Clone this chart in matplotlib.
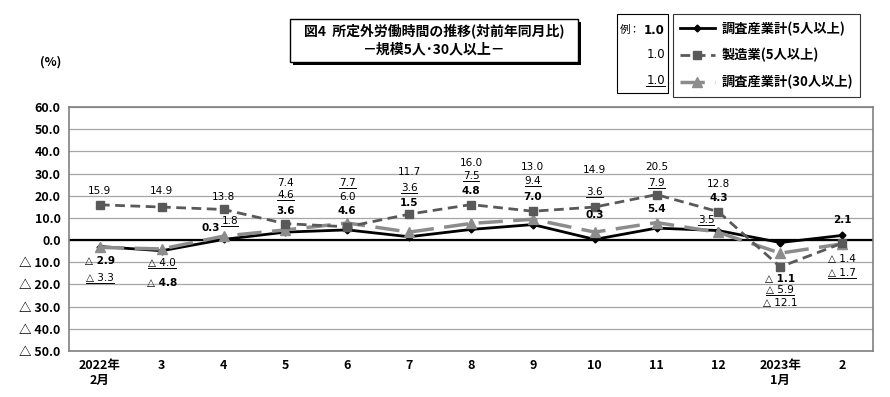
import matplotlib
matplotlib.use("Agg")
import matplotlib.pyplot as plt
from matplotlib.lines import Line2D
from matplotlib.patches import Rectangle

plt.rcParams['font.family'] = ['Noto Sans CJK JP', 'DejaVu Sans']

months = ['2022年\n2月', '3', '4', '5', '6', '7', '8', '9', '10', '11', '12', '2023年\n1月', '2']
total_5 = [-2.9, -4.8, 0.3, 3.6, 4.6, 1.5, 4.8, 7.0, 0.3, 5.4, 4.3, -1.1, 2.1]
manuf_5 = [15.9, 14.9, 13.8, 7.4, 6.0, 11.7, 16.0, 13.0, 14.9, 20.5, 12.8, -12.1, -1.4]
total_30 = [-3.3, -4.0, 1.8, 4.6, 7.7, 3.6, 7.5, 9.4, 3.6, 7.9, 3.5, -5.9, -1.7]

# where the value labels sit (data y), and small x shifts
pos_total = [-9.5, -19.4, 5.4, 13.1, 13.1, 16.7, 22.1, 19.4, 11.3, 14.0, 18.9, -17.6, 9.0]
pos_manuf = [22.1, 22.1, 19.4, 25.7, 19.4, 30.6, 34.7, 32.9, 31.5, 32.9, 25.2, -28.4, -8.6]
pos_30 = [-17.1, -10.4, 8.6, 20.3, 25.7, 23.4, 28.8, 26.6, 21.6, 25.7, 9.0, -22.5, -14.9]
dx_total = [0, 0, -0.2, 0, 0, 0, 0, 0, 0, 0, 0, 0, 0]
dx_30 = [0, 0, 0.1, 0, 0, 0, 0, 0, 0, 0, -0.2, 0, 0]


def fmt(v):
    if v < 0:
        return "△ %.1f" % abs(v)
    return "%.1f" % v


fig = plt.figure(figsize=(8.9, 3.97), dpi=100)
ax = fig.add_axes([69 / 890, 1 - 351 / 397, 804 / 890, 244 / 397])

x = list(range(len(months)))
ax.set_xlim(-0.5, len(months) - 0.5)
ax.set_ylim(-50, 60)

yt = list(range(-50, 61, 10))
ax.set_yticks(yt)
ax.set_yticklabels([fmt(v) for v in yt], fontsize=9, fontweight='bold')
ax.set_xticks(x)
ax.set_xticklabels(months, fontsize=9, fontweight='bold', linespacing=1.2)
ax.tick_params(length=0, pad=6)
ax.yaxis.grid(True, color='#a6a6a6', lw=0.9)
ax.set_axisbelow(True)
ax.axhline(0, color='black', lw=1.6, zorder=2)
for s in ax.spines.values():
    s.set_color('#808080')
    s.set_linewidth(1.2)

l1, = ax.plot(x, total_5, color='black', lw=2, marker='D', ms=3.5, zorder=3,
              label='調査産業計(5人以上)')
l3, = ax.plot(x, total_30, color='#8c8c8c', lw=2.5, dashes=(7, 3), marker='^', ms=7,
              zorder=4, label='調査産業計(30人以上)')
l2, = ax.plot(x, manuf_5, color='#595959', lw=2, dashes=(3.5, 2), marker='s', ms=5.5,
              zorder=5, label='製造業(5人以上)')

lab_font = ['Liberation Sans Narrow', 'DejaVu Sans']
under = []
for i in x:
    ax.text(i, pos_manuf[i], fmt(manuf_5[i]), ha='center', va='center', fontsize=7.5,
            family=lab_font, zorder=6)
    ax.text(i + dx_total[i], pos_total[i], fmt(total_5[i]), ha='center', va='center',
            fontsize=7.5, fontweight='bold', family=lab_font, zorder=6)
    t = ax.text(i + dx_30[i], pos_30[i], fmt(total_30[i]), ha='center', va='center',
                fontsize=7.5, family=lab_font, zorder=6)
    under.append(t)

fig.text(40 / 890, 1 - 62 / 397, '(%)', fontsize=9, fontweight='bold', va='center')

# title box with shadow
fig.add_artist(Rectangle((293 / 890, 1 - 65 / 397), 288 / 890, 43 / 397,
                         transform=fig.transFigure, facecolor='black', edgecolor='none'))
fig.add_artist(Rectangle((290 / 890, 1 - 62 / 397), 288 / 890, 43 / 397,
                         transform=fig.transFigure, facecolor='white', edgecolor='black', lw=1))
fig.text(434 / 890, 1 - 31 / 397, '図4  所定外労働時間の推移(対前年同月比)', ha='center',
         va='center', fontsize=10, fontweight='bold')
fig.text(434 / 890, 1 - 49 / 397, '－規模5人･30人以上－', ha='center', va='center',
         fontsize=10, fontweight='bold')

# example box
fig.add_artist(Rectangle((617 / 890, 1 - 93 / 397), 51 / 890, 79 / 397,
                         transform=fig.transFigure, facecolor='white', edgecolor='black', lw=0.8))
fig.text(620 / 890, 1 - 30 / 397, '例：', ha='left', va='center', fontsize=7.5)
fig.text(665 / 890, 1 - 30 / 397, '1.0', ha='right', va='center', fontsize=8.5,
         fontweight='bold', family=lab_font)
fig.text(665 / 890, 1 - 55 / 397, '1.0', ha='right', va='center', fontsize=8.5, family=lab_font)
t = fig.text(665 / 890, 1 - 80 / 397, '1.0', ha='right', va='center', fontsize=8.5,
             family=lab_font)
under.append(t)

leg = fig.legend(handles=[l1, l2, l3], loc='upper left',
                 bbox_to_anchor=(673 / 890, 1 - 14 / 397), frameon=True, fancybox=False,
                 edgecolor='black', fontsize=9.5, handlelength=2.6, labelspacing=0.95,
                 borderpad=0.55, handletextpad=0.5, borderaxespad=0)
leg.get_frame().set_linewidth(0.8)
for txt in leg.get_texts():
    txt.set_fontweight('bold')

fig.canvas.draw()
for t in under:
    bb = t.get_window_extent()
    fig.add_artist(Line2D([bb.x0, bb.x1], [bb.y0 + 0.5, bb.y0 + 0.5], transform=None,
                          color='black', lw=0.7))

fig.savefig('out.png', dpi=100)
